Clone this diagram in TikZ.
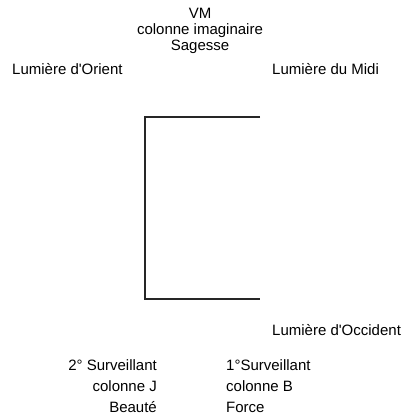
\documentclass[tikz,border=0pt]{standalone}
\usepackage{fontspec}
\setmainfont{Liberation Sans}
\usetikzlibrary{positioning}

\begin{document}
\begin{tikzpicture}[x=1pt,y=-1pt,
  lbl/.style={inner sep=0pt,font=\fontsize{15}{16}\selectfont},
  pillar/.style={inner sep=0pt,font=\fontsize{15}{21}\selectfont}]
\useasboundingbox (0,0) rectangle (407,414);
\node[lbl,align=center,anchor=north] (vm) at (200,8) {VM\\colonne imaginaire\\Sagesse};
\node[lbl,anchor=base west] (orient) at (12,75) {Lumière d\textquotesingle Orient};
\node[lbl,anchor=base west] (midi) at (272,75) {Lumière du Midi};
\node[lbl,anchor=base west] (occident) at (272,335) {Lumière d\textquotesingle Occident};
\node[pillar,align=right,anchor=north east] (second) at (157,359) {2° Surveillant\\colonne J\\Beauté};
\node[pillar,align=left,anchor=north west] (first) at (226,359) {1°Surveillant\\colonne B\\Force};
\draw[line width=1.5pt,black!85] (260,117) -- (145,117) -- (145,299) -- (260,299);
\end{tikzpicture}
\end{document}
